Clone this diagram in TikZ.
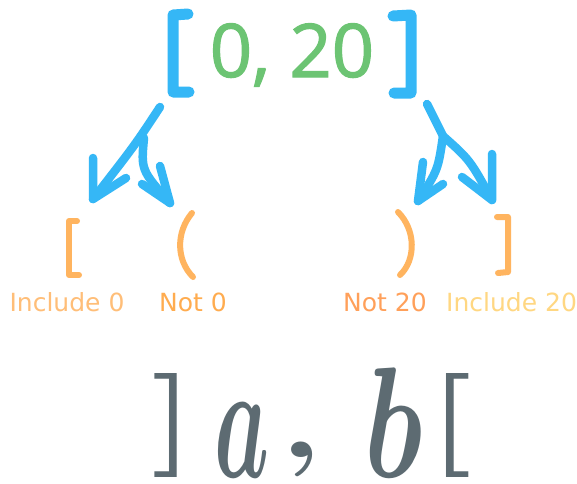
\documentclass[tikz,border=0pt]{standalone}
\usepackage{fontspec}
\newfontfamily\djsans{DejaVu Sans}
\newfontfamily\osans[FakeBold=1.6]{Open Sans}
\definecolor{myblue}{HTML}{35B7F6}
\definecolor{mygreen}{HTML}{6CC473}
\definecolor{myorange}{HTML}{FFB45F}
\definecolor{incA}{HTML}{FFBE78}
\definecolor{notA}{HTML}{FFAC4F}
\definecolor{notB}{HTML}{FFA05A}
\definecolor{incB}{HTML}{FFD782}
\definecolor{mygray}{HTML}{5D6B72}
\begin{document}
\begin{tikzpicture}[x=1pt,y=-1pt,
  bluebr/.style={draw=myblue,line width=11pt,line cap=round,line join=round},
  bluearr/.style={draw=myblue,line width=8.5pt,line cap=round,line join=round},
  orbr/.style={draw=myorange,line width=6pt,line cap=round,line join=round},
  lbl/.style={font=\djsans\fontsize{25}{25}\selectfont,inner sep=0pt,anchor=base},
  bigtxt/.style={text=mygray,inner sep=0pt}]
\useasboundingbox[fill=white] (0,0) rectangle (577,483);
% top range
\draw[bluebr] (188,14) -- (173,15) -- (173,92) -- (189,92);
\draw[bluebr] (393,16) -- (411,15) -- (411,93) -- (394,93);
\node[font=\osans\fontsize{74}{74}\selectfont,text=mygreen,inner sep=0pt,anchor=base] (range) at (292,77) {0, 20};
% left arrows
\coordinate (L0) at (160,107);
\coordinate (LB) at (144,138);
\coordinate (LA) at (93,199);
\coordinate (LC) at (170,203);
\draw[bluearr] (L0) .. controls (135,145) .. (LA);
\draw[bluearr] (93,158) -- (LA) -- (126,178);
\draw[bluearr] (LB) .. controls (141,170) .. (LC);
\draw[bluearr] (160,166) -- (LC) -- (142,184);
% right arrows
\coordinate (R0) at (427,104);
\coordinate (RB) at (443,136);
\coordinate (RA) at (492,200);
\coordinate (RC) at (418,201);
\draw[bluearr] (R0) -- (RB) .. controls (470,160) .. (RA);
\draw[bluearr] (492,154) -- (RA) -- (462,177);
\draw[bluearr] (RB) .. controls (438,170) .. (RC);
\draw[bluearr] (423,162) -- (RC) -- (443,184);
% orange brackets
\draw[orbr] (77,221) -- (69,221) -- (69,275) -- (79,275);
\draw[orbr] (192,213) .. controls (176,232) and (176,260) .. (193,277);
\draw[orbr] (398,212) .. controls (416,230) and (416,260) .. (400,275);
\draw[orbr] (497,217) -- (508,217) -- (508,272) -- (498,273);
% labels
\node[lbl,text=incA] (inc0) at (67,311) {Include 0};
\node[lbl,text=notA] (not0) at (193,311) {Not 0};
\node[lbl,text=notB] (not20) at (385,311) {Not 20};
\node[lbl,text=incB,anchor=base west] (inc20) at (446,311) {Include 20};
% bottom notation
\node[bigtxt,font=\fontsize{104}{104}\selectfont\bfseries,anchor=north east] (rbr) at (196,373) {\scalebox{1.35}[1]{]}};
\node[bigtxt,font=\Huge\boldmath,anchor=base] (va) at (242,477) {\scalebox{3.5}[6.71]{$a$}};
\node[bigtxt,font=\Huge\boldmath,anchor=base] (comma) at (301,457) {\scalebox{5}[4]{$,$}};
\node[bigtxt,font=\Huge\boldmath,anchor=base] (vb) at (394,477) {\scalebox{4.5}[6.35]{$b$}};
\node[bigtxt,font=\fontsize{104}{104}\selectfont\bfseries,anchor=north west] (lbr) at (428,373) {\scalebox{1.35}[1]{[}};
\end{tikzpicture}
\end{document}
